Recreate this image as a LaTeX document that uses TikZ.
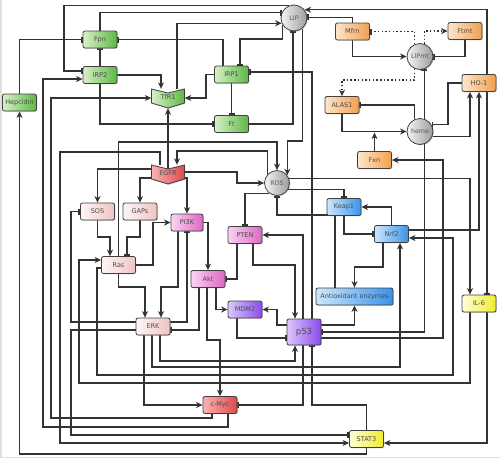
\documentclass[tikz,border=0pt]{standalone}
\usepackage{fontspec}
\setmainfont{DejaVu Sans}
\usetikzlibrary{arrows.meta,shadows}
\pgfdeclarelayer{edges}
\pgfsetlayers{edges,main}
\definecolor{gA}{HTML}{D8F0C8}\definecolor{gB}{HTML}{5DB845}
\definecolor{oA}{HTML}{FDE6CC}\definecolor{oB}{HTML}{F2A04E}
\definecolor{cA}{HTML}{F4F4F4}\definecolor{cB}{HTML}{9C9C9C}
\definecolor{rA}{HTML}{F9B4B4}\definecolor{rB}{HTML}{DE4A4A}
\definecolor{lA}{HTML}{FFF6F6}\definecolor{lB}{HTML}{EDC4C4}
\definecolor{pA}{HTML}{FAD4F2}\definecolor{pB}{HTML}{DD66C4}
\definecolor{vA}{HTML}{DCC8FC}\definecolor{vB}{HTML}{8A4CEA}
\definecolor{bA}{HTML}{CDE7FC}\definecolor{bB}{HTML}{3A92EA}
\definecolor{yA}{HTML}{FFFFD8}\definecolor{yB}{HTML}{F0EC2C}
\tikzset{
 base/.style={draw=black!75, line width=0.8pt, drop shadow={shadow xshift=0.9pt, shadow yshift=-0.9pt, opacity=0.3}},
 box/.style={base, rectangle, rounded corners=2pt, minimum width=34pt, minimum height=17pt, inner sep=0pt, font=\fontsize{6.5}{7.5}\selectfont, text=black!70},
 gbox/.style={box, left color=gA, right color=gB},
 obox/.style={box, left color=oA, right color=oB},
 rbox/.style={box, left color=rA, right color=rB},
 lbox/.style={box, left color=lA, right color=lB},
 pbox/.style={box, left color=pA, right color=pB},
 vbox/.style={box, left color=vA, right color=vB},
 bbox/.style={box, left color=bA, right color=bB},
 ybox/.style={box, left color=yA, right color=yB},
 circ/.style={base, circle, minimum size=26pt, inner sep=0pt, font=\fontsize{6.3}{7}\selectfont, text=black!65, left color=cA, right color=cB},
 txt/.style={rectangle, minimum width=33pt, minimum height=16pt, inner sep=0pt, font=\fontsize{6.5}{7.5}\selectfont, text=black!70},
 conn/.style={line width=1.1pt, draw=black!80},
 act/.style={conn, -{Stealth[length=6.5pt,width=6pt,inset=2pt]}},
 inh/.style={conn, -{Bar[width=6pt,line width=1.8pt]}},
 dot/.style={dash pattern=on 1.5pt off 2.2pt},
}
\newcommand\recnode[5]{%
  \path[base,#5] ({#2-16.5},{#3-8}) -- (#2,{#3-4}) -- ({#2+16.5},{#3-8}) -- ({#2+16.5},{#3+6}) -- (#2,{#3+11}) -- ({#2-16.5},{#3+6}) -- cycle;
  \node[txt] (#1) at (#2,#3) {#4};}
\begin{document}
\begin{tikzpicture}[x=1pt,y=-1pt]
\useasboundingbox (0,0) rectangle (500,459);
\draw[black!12, line width=1.5pt] (0.75,0) -- (0.75,457.5) -- (500,457.5);
% nodes
\node[gbox] (Fpn) at (100,39.5) {Fpn};
\node[gbox] (IRP2) at (100,75) {IRP2};
\node[gbox] (Hepcidin) at (19.5,102.5) {Hepcidin};
\node[gbox] (IRP1) at (231.5,74.5) {IRP1};
\node[gbox] (Ft) at (231.5,124) {Ft};
\recnode{TfR1}{168}{97}{TfR1}{left color=gA,right color=gB}
\node[circ] (LIP) at (294,18) {LIP};
\node[obox] (Mfrn) at (352.5,31.5) {Mfrn};
\node[obox] (Ftmt) at (465,31) {Ftmt};
\node[circ] (LIPmt) at (420,56.5) {LIPmt};
\node[obox] (HO1) at (479,83) {HO-1};
\node[obox] (ALAS1) at (342,105) {ALAS1};
\node[circ] (heme) at (420,131.5) {heme};
\node[obox] (Fxn) at (374.5,160) {Fxn};
\node[circ, minimum size=25pt] (ROS) at (277,183) {ROS};
\node[bbox] (Keap1) at (344,207) {Keap1};
\node[bbox] (Nrf2) at (391.5,234) {Nrf2};
\node[bbox, minimum width=77pt, font=\fontsize{6.5}{7.5}\selectfont] (AE) at (354.5,296.5) {Antioxidant enzymes};
\node[ybox] (IL6) at (479,303.5) {IL-6};
\recnode{EGFR}{168}{173}{EGFR}{left color=rA,right color=rB}
\node[lbox] (SOS) at (97.5,211.5) {SOS};
\node[lbox] (GAPs) at (140,211.5) {GAPs};
\node[pbox, minimum width=32pt] (PI3K) at (187,222.5) {PI3K};
\node[lbox] (Ras) at (118.5,265) {Ras};
\node[pbox] (PTEN) at (245,235) {PTEN};
\node[pbox] (Akt) at (208,279) {Akt};
\node[vbox] (MDM2) at (245,309.5) {MDM2};
\node[vbox, minimum height=26pt, font=\fontsize{8.5}{9.5}\selectfont] (p53) at (304,332) {p53};
\node[lbox] (ERK) at (153,326.5) {ERK};
\node[rbox] (cMyc) at (220,405) {c-Myc};
\node[ybox] (STAT3) at (366.5,439) {STAT3};
% connectors
\begin{pgfonlayer}{edges}
\draw[inh] (Hepcidin.north) |- (Fpn.west);
\draw[inh] (IRP2.north) -- (Fpn.south);
\draw[inh] (LIP.113) -| (64,71) -- (IRP2.west |- 0,71);
\draw[inh] (Fpn.north) |- (LIP.157);
\draw[act] (TfR1.north -| 177,0) |- (LIP.203);
\draw[inh] (IRP1.north -| 223,0) |- (Fpn.east);
\draw[inh] (LIP.212) -- (LIP.212 |- 0,39) -| (IRP1.north -| 240,0);
\draw[act] (IRP2.east) -| (TfR1.north -| 161,0);
\draw[act] (IRP1.west) -| (206,98) -- (TfR1.east |- 0,98);
\draw[act] (cMyc.south -| 212,0) |- (51,418) |- (TfR1.west |- 0,98);
\draw[act] (cMyc.south -| 228,0) |- (43,427) |- (IRP2.west |- 0,79);
\draw[inh] (IRP2.south) |- (Ft.west);
\draw[inh] (IRP1.south) -- (Ft.north);
\draw[inh] (Ft.east) -| (LIP.south -| 293,0);
\draw[act] ([yshift=-4pt]EGFR.north) -- ([yshift=-3pt]TfR1.south);
\draw[act] (HO1.north -| 487,0) |- (LIP.38);
\draw[inh] (Mfrn.north) |- (LIP.4);
\draw[act] (LIP.308) -- (LIP.308 |- 0,141) -| (ROS.37);
\draw[act] (Mfrn.south) |- (LIPmt.west);
\draw[inh] (Ftmt.south) |- (LIPmt.east);
\draw[act,dot] (LIPmt.72) |- (Ftmt.west);
\draw[inh,dot] (LIPmt.113) |- (Mfrn.east);
\draw[act,dot] (LIPmt.247) |- (ALAS1.north |- 0,80) -- (ALAS1.north);
\draw[inh] (heme.72) -- (LIPmt.288);
\draw[inh] (heme.113) |- (ALAS1.east);
\draw[act] (ALAS1.south) |- (heme.west);
\coordinate (fxnT) at (374.5,132.6);
\draw[act] (Fxn.north) -- (fxnT);
\draw[act] (heme.340) -| (HO1.south -| 470,0);
\draw[inh] (HO1.west) -| (heme.30 -| 448,0) -- (heme.30);
\draw[inh] (heme.288) |- (p53.east);
\draw[act] (Nrf2.east |- 0,230) -| (HO1.south -| 479,0);
\draw[inh] (HO1.south -| 487,0) -- (IL6.north -| 487,0);
\draw[act] (Ras.north) |- (ROS.north |- 0,142) -- (ROS.north);
\draw[act] (ROS.136) |- (177,151) -- (EGFR.north -| 177,0);
\draw[act] (EGFR.east |- 0,172) -| (237,183) -- (ROS.west);
\draw[act] (ROS.19) -| (IL6.north -| 470,0);
\draw[inh] (ROS.331) -| (Keap1.north);
\draw[act] (Nrf2.north) |- (Keap1.east);
\draw[inh] (Keap1.south) |- (Nrf2.west);
\draw[act] (Nrf2.south -| 383,0) |- (AE.north |- 0,267) -- (AE.north);
\draw[inh] (AE.north -| 335,0) |- (ROS.south |- 0,215) -- (ROS.south);
\draw[act] (Ras.west |- 0,268) -| (97,375) -| (453,238) -- (Nrf2.east |- 0,238);
\draw[act] (ERK.south -| 152,0) |- (400,367) -- (Nrf2.south -| 400,0);
\draw[inh] (ROS.233) -| (PTEN.north);
\draw[act] (p53.east |- 0,325) -| (AE.south);
\draw[act] (p53.east |- 0,338) -| (443,160) -- (Fxn.east);
\draw[act] (p53.west |- 0,325) -| (MDM2.east -| 277,0) -- (MDM2.east);
\draw[inh] (MDM2.south -| 237,0) |- (p53.west |- 0,338);
\draw[act] (Akt.south -| 216,0) |- (MDM2.west);
\draw[act] (PTEN.south -| 253,0) |- (295,265) -- (p53.north -| 295,0);
\draw[act] (p53.north -| 303,0) |- (PTEN.east);
\draw[inh] (p53.north -| 312,0) |- (IRP1.east |- 0,72);
\draw[act] (ERK.south -| 160,0) |- (295,361) -- (p53.south -| 295,0);
\draw[inh] (STAT3.north) |- (312,405) -- (p53.south -| 312,0);
\draw[inh] (p53.south -| 303,0) |- (cMyc.east);
\draw[act] (ERK.south -| 144,0) |- (cMyc.west);
\draw[act] (Akt.south -| 207,0) |- (cMyc.north |- 0,340) -- (cMyc.north);
\draw[inh] (Akt.south -| 199,0) |- (ERK.east |- 0,330);
\draw[inh] (ERK.east |- 0,322) -| (PI3K.south);
\draw[act] (PI3K.south -| 178,0) |- (161,287) -- (ERK.north -| 161,0);
\draw[act] (Ras.south) |- (145,287) -- (ERK.north -| 145,0);
\draw[act] (Ras.east) -| (PI3K.west -| 153,0) -- (PI3K.west);
\draw[act] (PI3K.east) -| (Akt.north);
\draw[inh] (PTEN.south -| 237,0) |- (Akt.east);
\draw[act] (EGFR.west |- 0,169) -| (SOS.north);
\draw[act] (EGFR.west |- 0,178) -| (GAPs.north);
\draw[act] (EGFR.east |- 0,178) -| (PI3K.north);
\draw[act] (EGFR.north -| 160,0) |- (60,152) |- (STAT3.west |- 0,443);
\draw[inh] (ERK.west |- 0,330) -| (71,435) -- (STAT3.west |- 0,435);
\draw[inh] (ERK.west |- 0,322) -| (SOS.west -| 71,0) -- (SOS.west);
\draw[act] (IL6.south -| 487,0) |- (STAT3.east |- 0,443);
\draw[act] (IL6.south -| 470,0) |- (79,383) |- (Ras.west |- 0,260);
\draw[act] (STAT3.south) |- (19.5,454) -- (Hepcidin.south);
\draw[act] (SOS.south) |- (110,237) -- (Ras.north -| 110,0);
\draw[inh] (GAPs.south) |- (127,237) -- (Ras.north -| 127,0);
\end{pgfonlayer}
\end{tikzpicture}
\end{document}
